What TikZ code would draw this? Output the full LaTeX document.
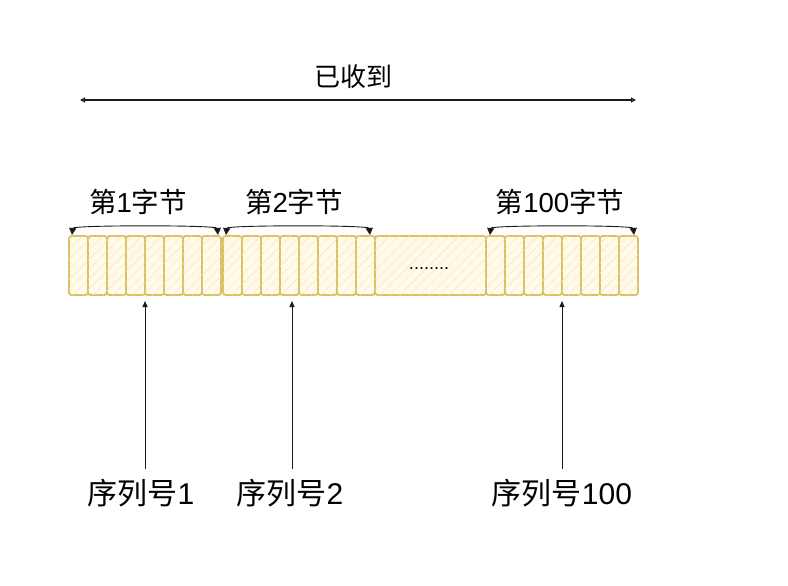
\documentclass[tikz,border=0pt]{standalone}
\usepackage{fontspec}
\setmainfont{Liberation Sans}
\newfontfamily\cjk{Noto Sans CJK SC}
\usetikzlibrary{arrows.meta,patterns.meta}
\definecolor{cellstroke}{HTML}{DDBF66}
\definecolor{cellfill}{HTML}{FFFAEA}
\definecolor{hatchcol}{HTML}{F6E9C2}
\definecolor{linecol}{HTML}{1A1A1A}
\tikzset{
  cell/.style={draw=cellstroke, line width=1.8pt, rounded corners=2.5pt, fill=cellfill,
    minimum width=19pt, minimum height=59pt, inner sep=0pt, outer sep=0pt, anchor=north west,
    postaction={pattern={Lines[angle=45,distance=7pt,line width=0.6pt]}, pattern color=hatchcol}},
  midcell/.style={cell, minimum width=111pt},
  toplabel/.style={font=\fontsize{27.5}{32}\selectfont, text=black, inner sep=2pt},
  spanlabel/.style={font=\fontsize{26}{30}\selectfont, text=black, inner sep=2pt},
  seqlabel/.style={font=\fontsize{30}{34}\selectfont, text=black, inner sep=2pt},
  bracearrow/.style={draw=linecol, line width=0.9pt, {Triangle[length=7pt,width=7pt]}-{Triangle[length=7pt,width=7pt]}},
  spanarrow/.style={draw=linecol, line width=1.2pt, {Triangle[open,length=5pt,width=5pt]}-{Triangle[open,length=5pt,width=5pt]}},
  seqarrow/.style={draw=linecol, line width=0.8pt, -{Triangle[length=6pt,width=5pt]}}
}
\begin{document}
\begin{tikzpicture}[x=1pt,y=-1pt]
\useasboundingbox (0,0) rectangle (788,586);
% cells
\foreach \i in {1,...,8} {
  \node[cell] (b1c\i) at ({69+19*(\i-1)},236) {};
  \node[cell] (b2c\i) at ({223+19*(\i-1)},236) {};
  \node[cell] (b100c\i) at ({486+19*(\i-1)},236) {};
}
\node[midcell] (mid) at (375,236) {};
\node[font=\fontsize{18}{20}\selectfont, inner sep=0pt] (dots) at (429,269) {........};
% top span
\node[spanlabel] (recv) at (353,77) {\cjk 已收到};
\coordinate (ra) at (80,100);
\coordinate (rb) at (636,100);
\draw[spanarrow] (ra) -- (rb);
% byte labels
\node[toplabel] (l1) at (138,202) {{\cjk 第}1{\cjk 字节}};
\node[toplabel] (l2) at (294,202) {{\cjk 第}2{\cjk 字节}};
\node[toplabel] (l100) at (560,202) {{\cjk 第}100{\cjk 字节}};
% braces
\coordinate (b1a) at (72,235);
\coordinate (b1b) at (218,235);
\coordinate (b2a) at (226,235);
\coordinate (b2b) at (370,235);
\coordinate (b3a) at (490,235);
\coordinate (b3b) at (634,235);
\draw[bracearrow] (b1a) .. controls (73,225) and (217,225) .. (b1b);
\draw[bracearrow] (b2a) .. controls (227,225) and (369,225) .. (b2b);
\draw[bracearrow] (b3a) .. controls (491,225) and (633,225) .. (b3b);
% sequence labels
\node[seqlabel] (s1) at (141,493) {{\cjk 序列号}1};
\node[seqlabel] (s2) at (290,493) {{\cjk 序列号}2};
\node[seqlabel] (s100) at (562,493) {{\cjk 序列号}100};
\draw[seqarrow, shorten >=6pt, shorten <=8pt] (b1c5.south west |- s1.north) -- (b1c5.south west);
\draw[seqarrow, shorten >=6pt, shorten <=8pt] (292,0 |- s2.north) -- (292,0 |- b2c4.south);
\draw[seqarrow, shorten >=6pt, shorten <=8pt] (b100c5.south west |- s100.north) -- (b100c5.south west);
\end{tikzpicture}
\end{document}
